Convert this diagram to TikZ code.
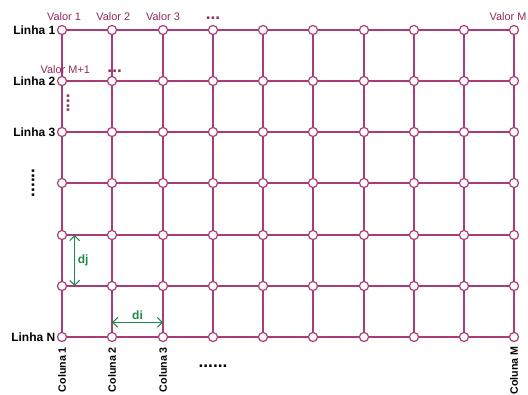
\documentclass[tikz,border=0pt]{standalone}
\usepackage{fontspec}
\setmainfont{Liberation Sans}
\usetikzlibrary{arrows.meta,positioning}
\definecolor{cgrid}{HTML}{A83C78}
\definecolor{cval}{HTML}{8E2A5E}
\definecolor{cdist}{HTML}{1F8A4C}
\tikzset{
  knot/.style={circle, draw=cgrid, fill=white, line width=0.9pt, inner sep=0pt, minimum size=6.8pt},
  wire/.style={draw=cgrid, line width=1.5pt},
  rowlbl/.style={font=\bfseries\fontsize{9}{10}\selectfont, inner sep=1pt},
  collbl/.style={font=\bfseries\fontsize{8}{9}\selectfont, inner sep=1pt, rotate=90, anchor=east},
  vallbl/.style={font=\fontsize{8.2}{9}\selectfont, text=cval, inner sep=1pt},
  dots/.style={font=\bfseries\fontsize{13}{13}\selectfont, inner sep=0pt},
  vdots/.style={dots, text=cval},
  dist/.style={{Straight Barb[length=1.3mm]}-{Straight Barb[length=1.3mm]}, draw=cdist, line width=0.8pt},
  distlbl/.style={font=\bfseries\fontsize{9}{10}\selectfont, text=cdist, inner sep=2pt},
}
\begin{document}
\begin{tikzpicture}[x=0.75pt,y=-0.75pt]
\useasboundingbox (0,0) rectangle (528,394);
% grid points
\foreach \i in {1,...,10}
  \foreach \j in {1,...,7}
    \node[knot] (n-\i-\j) at ({round(62+50.25*(\i-1))},{round(29.5+51.3*(\j-1))}) {};
% wires
\foreach \j in {1,...,7}
  \foreach \i [count=\k from 2] in {1,...,9}
    \draw[wire] (n-\i-\j) -- (n-\k-\j);
\foreach \i in {1,...,10}
  \foreach \j [count=\k from 2] in {1,...,6}
    \draw[wire] (n-\i-\j) -- (n-\i-\k);
% row labels
\node[rowlbl, left=0pt of n-1-1] (l1) {Linha 1};
\node[rowlbl, left=0pt of n-1-2] (l2) {Linha 2};
\node[rowlbl, left=0pt of n-1-3] (l3) {Linha 3};
\node[rowlbl, left=0pt of n-1-7] (ln) {Linha N};
\node[dots, rotate=90] (ldots) at ([xshift=-21.75pt]n-1-4) {......};
% column labels
\node[collbl] (c1) at ([yshift=-2.5pt]n-1-7.south) {Coluna 1};
\node[collbl] (c2) at ([yshift=-2.5pt]n-2-7.south) {Coluna 2};
\node[collbl] (c3) at ([yshift=-2.5pt]n-3-7.south) {Coluna 3};
\node[collbl, xshift=-1pt] (cm) at ([yshift=-1pt]n-10-7.south) {Coluna M};
\node[dots] (cdots) at ([yshift=-22pt]n-4-7) {......};
% values
\node[vallbl, above=2pt of n-1-1, xshift=1.5pt] (v1) {Valor 1};
\node[vallbl, above=2pt of n-2-1, xshift=1pt] (v2) {Valor 2};
\node[vallbl, above=2pt of n-3-1] (v3) {Valor 3};
\node[vdots, above=4pt of n-4-1] (vdots) {...};
\node[vallbl, above=2pt of n-10-1, xshift=-4.5pt] (vm) {Valor M};
\node[vallbl, above=0.5pt of n-1-2, xshift=2.5pt] (vm1) {Valor M+1};
\node[vdots, above=2.5pt of n-2-2, xshift=2pt] (vm1dots) {...};
\path (n-1-2) -- node[vdots, pos=0.42, xshift=4.5pt, rotate=90] (rdots) {....} (n-1-3);
% spacings
\draw[dist] ([xshift=9.5pt]n-1-5.center) -- node[distlbl, right] (dj) {dj} ([xshift=9.5pt]n-1-6.center);
\draw[dist] ([yshift=11pt]n-2-7.center) -- node[distlbl, above] (di) {di} ([yshift=11pt]n-3-7.center);
\end{tikzpicture}
\end{document}
